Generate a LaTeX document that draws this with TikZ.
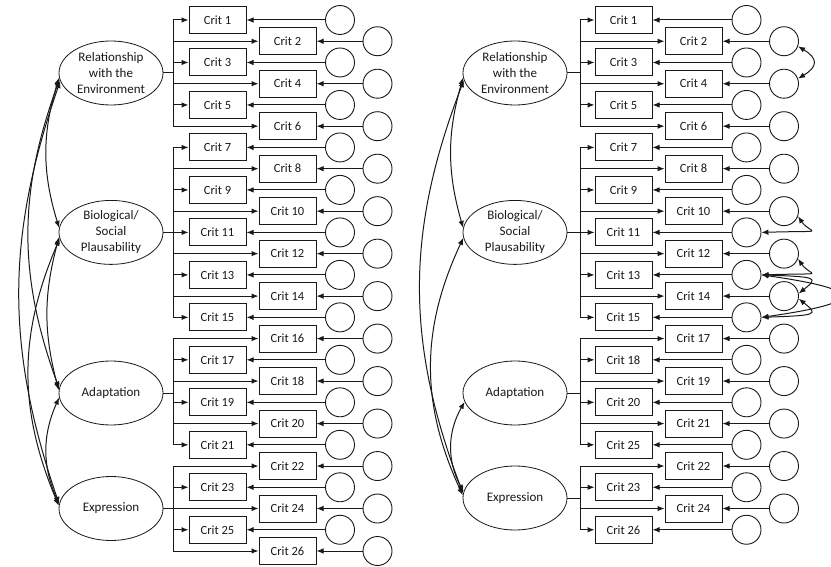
\documentclass[tikz,border=0pt]{standalone}
\usepackage{fontspec}
\setmainfont{Carlito}
\usetikzlibrary{arrows.meta, shapes.geometric}

\begin{document}
\begin{tikzpicture}[x=1pt, y=-1pt, line width=1pt, color=black!90,
  >={Latex[length=7pt, width=5.5pt]},
  critbox/.style={draw, line width=1pt, minimum width=57pt, minimum height=27pt, inner sep=0pt, font=\fontsize{12.5}{14}\selectfont},
  errcirc/.style={draw, circle, line width=0.9pt, minimum size=29pt, inner sep=0pt},
  latent/.style={draw, ellipse, line width=0.8pt, minimum width=104pt, minimum height=64pt, inner sep=1pt, align=center, font=\fontsize{13}{16}\selectfont}]
%%\draw[help lines] (0,0) grid[step=20] (831,567);
\useasboundingbox (0,0) rectangle (831,567);

%% left model: items and residuals
\foreach \r in {1,...,26} {
  \pgfmathsetmacro{\yy}{20+21.24*(\r-1)}
  \pgfmathsetmacro{\bx}{isodd(\r) ? 217.5 : 287.5}
  \pgfmathsetmacro{\ex}{isodd(\r) ? 340 : 377.5}
  \node [critbox] (a\r) at (\bx,\yy) {Crit \r};
  \node [errcirc] (ea\r) at (\ex,\yy) {};
  \draw [->] (ea\r) -- (a\r);
}

\node [latent] (reA) at (111,73) {Relationship\\with the\\Environment};
\node [latent] (bsA) at (111,232.4) {Biological/\\Social\\Plausability};
\node [latent] (adA) at (111,393) {Adaptation};
\node [latent] (exA) at (111,508.5) {Expression};

\path (reA.east) ++(10,0) coordinate (treA);
\path (bsA.east) ++(10,0) coordinate (tbsA);
\path (adA.east) ++(10,0) coordinate (tadA);
\path (exA.east) ++(10,0) coordinate (texA);
\draw (reA.east) -- (treA);
\draw (bsA.east) -- (tbsA);
\draw (adA.east) -- (tadA);
\draw (exA.east) -- (texA);
\foreach \r in {1,...,6} \draw [->] (treA) |- (a\r);
\foreach \r in {7,...,15} \draw [->] (tbsA) |- (a\r);
\foreach \r in {16,...,21} \draw [->] (tadA) |- (a\r);
\foreach \r in {22,...,26} \draw [->] (texA) |- (a\r);

\draw [<->] (reA.185) to [bend right=17] (bsA.175);
\draw [<->] (reA.187) to [bend right=20] (adA.175);
\draw [<->] (reA.189) to [bend right=19] (exA.175);
\draw [<->] (bsA.185) to [bend right=15] (adA.177);
\draw [<->] (bsA.187) to [bend right=23] (exA.177);
\draw [<->] (adA.185) to [bend right=24] (exA.175);

%% right model
\foreach \r/\lab in {1/1,2/2,3/3,4/4,5/5,6/6,7/7,8/8,9/9,10/10,11/11,12/12,13/13,
  14/14,15/15,16/17,17/18,18/19,19/20,20/21,21/25,22/22,23/23,24/24,25/26} {
  \pgfmathsetmacro{\yy}{20+21.24*(\r-1)}
  \pgfmathsetmacro{\bx}{isodd(\r) ? 623.5 : 693.5}
  \pgfmathsetmacro{\ex}{isodd(\r) ? 746.5 : 784}
  \node [critbox] (b\r) at (\bx,\yy) {Crit \lab};
  \node [errcirc] (eb\r) at (\ex,\yy) {};
  \draw [->] (eb\r) -- (b\r);
}

\node [latent] (reB) at (515,73) {Relationship\\with the\\Environment};
\node [latent] (bsB) at (515,232.4) {Biological/\\Social\\Plausability};
\node [latent] (adB) at (515,393) {Adaptation};
\node [latent] (exB) at (515,498) {Expression};

\path (reB.east) ++(13,0) coordinate (treB);
\path (bsB.east) ++(13,0) coordinate (tbsB);
\path (adB.east) ++(13,0) coordinate (tadB);
\path (exB.east) ++(13,0) coordinate (texB);
\draw (reB.east) -- (treB);
\draw (bsB.east) -- (tbsB);
\draw (adB.east) -- (tadB);
\draw (exB.east) -- (texB);
\foreach \r in {1,...,6} \draw [->] (treB) |- (b\r);
\foreach \r in {7,...,15} \draw [->] (tbsB) |- (b\r);
\foreach \r in {16,...,21} \draw [->] (tadB) |- (b\r);
\foreach \r in {22,...,25} \draw [->] (texB) |- (b\r);

\draw [<->] (reB.185) to [bend right=16] (bsB.175);
\draw [<->] (reB.188) to [bend right=21] (exB.175);
\draw [<->] (bsB.186) to [bend right=25] (exB.177);
\draw [<->] (adB.190) to [bend right=29] (exB.173);

%% correlated residuals
\draw [<->] (eb2.-20) .. controls +(20,12) and +(20,-12) .. (eb4.20);
\draw [<->] (eb10.-20) .. controls +(12,18) and +(70,-2) .. (eb11.east);
\draw [<->] (eb12.-20) .. controls +(12,18) and +(70,-2) .. (eb13.east);
\draw [<->] (eb13.east) .. controls +(105,15) and +(105,-15) .. (eb15.east);
\draw [<->] (eb13.east) .. controls +(56,2) and +(20,-16) .. (eb14.10);
\draw [<->] (eb14.-10) .. controls +(20,16) and +(56,-2) .. (eb15.east);
\end{tikzpicture}
\end{document}
